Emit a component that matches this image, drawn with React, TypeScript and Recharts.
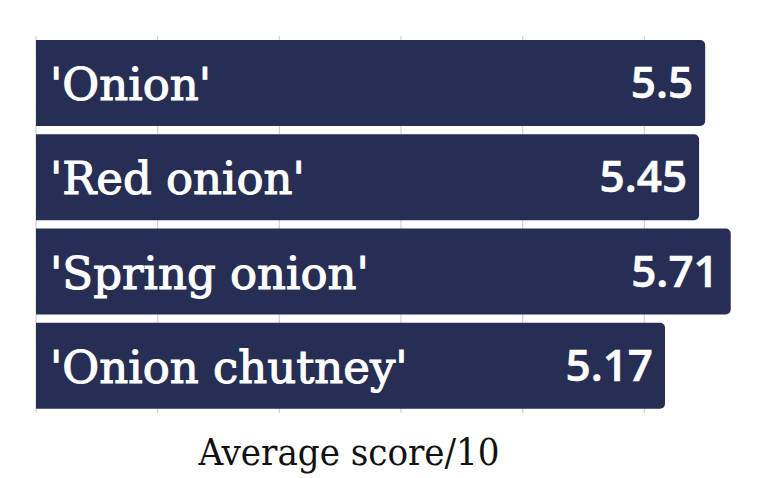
import React from "react";
import { BarChart, Bar, XAxis, YAxis, CartesianGrid, LabelList } from "recharts";

const categories = ["'Onion'", "'Red onion'", "'Spring onion'", "'Onion chutney'"];
const scores = [5.5, 5.45, 5.71, 5.17];
const xTicks = [0, 1, 2, 3, 4, 5];
const axisTitle = "Average score/10";

const data = categories.map((name, i) => ({ name, score: scores[i] }));

const BAR_COLOR = "#262e54";

const NameLabel = (props: any) => {
  const { x, y, height, value } = props;
  return (
    <text
      x={Number(x) + 14}
      y={Number(y) + Number(height) / 2 + 17}
      fill="#ffffff"
      stroke="#ffffff"
      strokeWidth={1.1}
      fontFamily="'DejaVu Serif', serif"
      fontSize={45}
      textAnchor="start"
    >
      {value}
    </text>
  );
};

const ValueLabel = (props: any) => {
  const { x, y, width, height, value } = props;
  return (
    <text
      x={Number(x) + Number(width) - 12}
      y={Number(y) + Number(height) / 2 + 15}
      fill="#ffffff"
      stroke="#ffffff"
      strokeWidth={0.6}
      fontFamily="'Open Sans', sans-serif"
      fontWeight={600}
      fontSize={44}
      textAnchor="end"
    >
      {value}
    </text>
  );
};

const AxisTitle = (props: any) => {
  const vb = props.viewBox || {};
  return (
    <text
      x={349}
      y={Number(vb.y) + 52}
      fill="#111111"
      fontFamily="'DejaVu Serif Condensed', 'DejaVu Serif', serif"
      fontStretch="condensed"
      fontSize={38}
      textAnchor="middle"
    >
      {axisTitle}
    </text>
  );
};

const NoTick = () => <g />;

export default function App() {
  return (
    <div style={{ position: "absolute", left: 0, top: 0, width: 767, height: 478, background: "#ffffff" }}>
      <BarChart
        width={767}
        height={478}
        data={data}
        layout="vertical"
        margin={{ top: 36, right: 1, left: 36, bottom: 0 }}
        barCategoryGap={4}
      >
        <CartesianGrid horizontal={false} vertical={true} syncWithTicks stroke="#d0d0d0" strokeWidth={1.2} />
        <XAxis
          type="number"
          domain={[0, 6]}
          ticks={xTicks}
          height={65}
          axisLine={false}
          tickLine={false}
          tick={<NoTick />}
          label={<AxisTitle />}
        />
        <YAxis type="category" dataKey="name" hide />
        <Bar dataKey="score" fill={BAR_COLOR} radius={[0, 5, 5, 0]} isAnimationActive={false}>
          <LabelList dataKey="name" content={<NameLabel />} />
          <LabelList dataKey="score" content={<ValueLabel />} />
        </Bar>
      </BarChart>
    </div>
  );
}
